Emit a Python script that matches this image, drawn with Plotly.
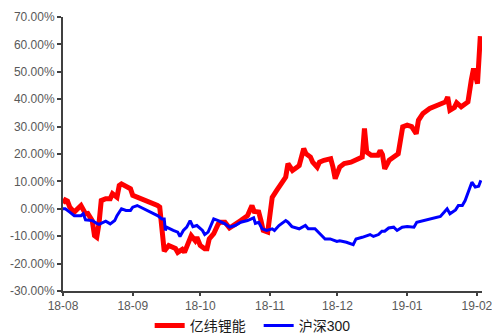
import plotly.graph_objects as go

red_name = "亿纬锂能"
red_dates = [
    "2018-08-01", "2018-08-02", "2018-08-03", "2018-08-04", "2018-08-06", "2018-08-08",
    "2018-08-09", "2018-08-11", "2018-08-12", "2018-08-14", "2018-08-15", "2018-08-16",
    "2018-08-17", "2018-08-18", "2018-08-20", "2018-08-22", "2018-08-23", "2018-08-25",
    "2018-08-26", "2018-08-27", "2018-08-29", "2018-08-31", "2018-09-01", "2018-09-04",
    "2018-09-08", "2018-09-12", "2018-09-13", "2018-09-14", "2018-09-15", "2018-09-17",
    "2018-09-20", "2018-09-21", "2018-09-23", "2018-09-24", "2018-09-26", "2018-09-27",
    "2018-09-28 18:00", "2018-09-29 12:00", "2018-10-01", "2018-10-03", "2018-10-04", "2018-10-05",
    "2018-10-07", "2018-10-08", "2018-10-09", "2018-10-10", "2018-10-12", "2018-10-14",
    "2018-10-16", "2018-10-19", "2018-10-22", "2018-10-24", "2018-10-25", "2018-10-27",
    "2018-10-28", "2018-10-29", "2018-10-31", "2018-11-01", "2018-11-02", "2018-11-04",
    "2018-11-06", "2018-11-08", "2018-11-09", "2018-11-11", "2018-11-13", "2018-11-14",
    "2018-11-16", "2018-11-17", "2018-11-19", "2018-11-20", "2018-11-22", "2018-11-23",
    "2018-11-25", "2018-11-28", "2018-11-29", "2018-11-30", "2018-12-02", "2018-12-04",
    "2018-12-07", "2018-12-09", "2018-12-10", "2018-12-12", "2018-12-13", "2018-12-14",
    "2018-12-16", "2018-12-18", "2018-12-19", "2018-12-20", "2018-12-21", "2018-12-22",
    "2018-12-24", "2018-12-26", "2018-12-28", "2018-12-30", "2019-01-01", "2019-01-03",
    "2019-01-05", "2019-01-06", "2019-01-08", "2019-01-11", "2019-01-16", "2019-01-18",
    "2019-01-19", "2019-01-20", "2019-01-22", "2019-01-23", "2019-01-25", "2019-01-28",
    "2019-01-29 12:00", "2019-01-30 12:00", "2019-01-31 06:00", "2019-02-01 06:00",
    "2019-02-02 12:00",
]
red_values = [
    2.0, 3.2, 2.8, 0.6, -1.2, 0.6,
    1.2, -1.8, -1.7, -4.3, -9.8, -10.4,
    -5.4, 3.0, 3.7, 3.7, 5.5, 4.2,
    8.5, 9.1, 8.2, 7.3, 4.9, 4.0,
    2.4, 1.2, 0.6, -6.7, -15.5, -13.4,
    -14.5, -15.9, -14.8, -15.9, -12.2, -9.8,
    -11.6, -10.4, -13.4, -14.6, -14.6, -11.0,
    -9.1, -6.7, -5.5, -4.9, -4.9, -7.0,
    -6.1, -4.3, -2.5, 1.2, -1.0, -1.2,
    -4.3, -7.9, -8.5, 0.0, 4.2, 6.7,
    9.1, 11.6, 16.5, 14.0, 15.2, 15.8,
    22.0, 20.1, 18.9, 17.0, 15.2, 17.0,
    17.7, 18.3, 15.2, 11.0, 15.2, 16.5,
    17.0, 17.7, 18.3, 18.9, 29.3, 20.7,
    19.5, 19.5, 19.5, 21.3, 19.8, 14.6,
    17.7, 18.9, 20.1, 29.9, 30.5, 30.0,
    27.4, 32.3, 34.8, 36.6, 38.4, 39.0,
    40.8, 36.0, 37.0, 38.7, 37.2, 39.0,
    47.0, 51.2, 49.0, 45.7,
    63.0,
]

blue_name = "沪深300"
blue_dates = [
    "2018-08-01", "2018-08-02", "2018-08-04", "2018-08-06", "2018-08-09", "2018-08-10",
    "2018-08-11", "2018-08-14", "2018-08-16", "2018-08-17", "2018-08-20", "2018-08-22",
    "2018-08-24", "2018-08-25", "2018-08-27", "2018-08-29", "2018-08-31", "2018-09-01",
    "2018-09-03", "2018-09-06", "2018-09-09", "2018-09-12", "2018-09-14", "2018-09-15",
    "2018-09-15 12:00", "2018-09-16", "2018-09-19", "2018-09-21", "2018-09-22", "2018-09-23 12:00",
    "2018-09-25", "2018-09-26 12:00", "2018-09-27 18:00", "2018-09-29 12:00", "2018-10-02", "2018-10-03",
    "2018-10-04 12:00", "2018-10-07", "2018-10-09", "2018-10-12", "2018-10-14", "2018-10-16 12:00",
    "2018-10-19", "2018-10-22", "2018-10-24 18:00", "2018-10-25 12:00", "2018-10-27", "2018-10-28 12:00",
    "2018-10-30 12:00", "2018-11-02", "2018-11-03", "2018-11-05", "2018-11-08", "2018-11-09",
    "2018-11-10 18:00", "2018-11-14", "2018-11-16 18:00", "2018-11-18", "2018-11-21", "2018-11-23",
    "2018-11-25 12:00", "2018-11-27 18:00", "2018-11-30 18:00", "2018-12-02", "2018-12-05", "2018-12-08",
    "2018-12-09 06:00", "2018-12-12", "2018-12-14", "2018-12-15 12:00", "2018-12-17", "2018-12-19 06:00",
    "2018-12-20 18:00", "2018-12-22", "2018-12-23 18:00", "2018-12-26", "2018-12-27 12:00", "2018-12-29 18:00",
    "2019-01-01", "2019-01-04", "2019-01-05 06:00", "2019-01-08", "2019-01-12", "2019-01-15 18:00",
    "2019-01-17 12:00", "2019-01-18 18:00", "2019-01-20", "2019-01-22 12:00", "2019-01-23 18:00", "2019-01-25 12:00",
    "2019-01-26 18:00", "2019-01-28 06:00", "2019-01-29 18:00", "2019-01-31 06:00", "2019-02-01 18:00", "2019-02-02 18:00",
]
blue_values = [
    0.0, 0.0, -1.2, -2.5, -2.5, -1.8,
    -4.0, -4.3, -5.3, -5.7, -4.5, -5.5,
    -4.3, -2.5, 0.0, -0.6, -0.6, 0.6,
    1.2, 0.0, -1.2, -2.5, -3.7, -3.7,
    -7.9, -6.7, -7.9, -8.5, -10.1, -7.9,
    -6.7, -4.3, -6.5, -6.1, -7.9, -9.4,
    -8.5, -3.7, -4.3, -5.5, -6.7, -6.1,
    -4.9, -4.3, -3.3, -5.3, -4.9, -7.3,
    -7.9, -7.3, -7.9, -6.1, -4.3, -4.9,
    -6.5, -7.3, -6.1, -7.3, -7.3, -9.1,
    -11.0, -11.0, -11.9, -11.7, -12.2, -13.1,
    -11.0, -10.4, -9.8, -9.4, -10.1, -9.4,
    -8.2, -8.2, -7.0, -6.7, -7.9, -6.7,
    -6.5, -6.7, -4.9, -4.3, -3.7, -2.8,
    -1.2, 0.0, -1.8, -0.4, 1.2, 1.2,
    3.0, 6.7, 9.7, 7.9, 8.2, 10.4,
]

month_ticks = ["2018-08-01", "2018-09-01", "2018-10-01", "2018-11-01",
               "2018-12-01", "2019-01-01", "2019-02-01"]
month_labels = ["18-08", "18-09", "18-10", "18-11", "18-12", "19-01", "19-02"]
y_ticks = [-30, -20, -10, 0, 10, 20, 30, 40, 50, 60, 70]
y_labels = [f"{v:.2f}%" for v in y_ticks]

axis_color = "#404040"
tick_font = dict(family="Liberation Sans, Arial, sans-serif", size=12, color="#595959")

fig = go.Figure()
fig.add_trace(go.Scatter(x=red_dates, y=red_values, name=red_name, mode="lines",
                         line=dict(color="#FF0000", width=5)))
fig.add_trace(go.Scatter(x=blue_dates, y=blue_values, name=blue_name, mode="lines",
                         line=dict(color="#0000FF", width=3)))

fig.update_layout(
    width=492, height=336,
    margin=dict(l=63, r=10, t=17, b=45, autoexpand=False),
    paper_bgcolor="white", plot_bgcolor="white",
    showlegend=True,
    legend=dict(orientation="h", x=0.467, xanchor="center",
                yref="container", y=0.03, yanchor="middle",
                entrywidth=64,
                font=dict(family="Liberation Sans, Noto Sans CJK SC, sans-serif", size=14, color="#1a1a1a"),
                bgcolor="rgba(0,0,0,0)"),
    xaxis=dict(type="date", range=["2018-08-01", "2019-02-03 06:00"],
               tickvals=month_ticks, ticktext=month_labels,
               ticklabeloverflow="allow", automargin=False,
               showline=True, linecolor=axis_color, linewidth=2,
               ticks="outside", ticklen=3, tickwidth=2, tickcolor=axis_color,
               showgrid=False, zeroline=False, tickfont=tick_font),
    yaxis=dict(range=[-30, 70], tickvals=y_ticks, ticktext=y_labels,
               automargin=False,
               showline=True, linecolor=axis_color, linewidth=2,
               ticks="outside", ticklen=4, tickwidth=2, tickcolor=axis_color,
               showgrid=False, zeroline=False, tickfont=tick_font),
)

fig.write_html("out.html")
